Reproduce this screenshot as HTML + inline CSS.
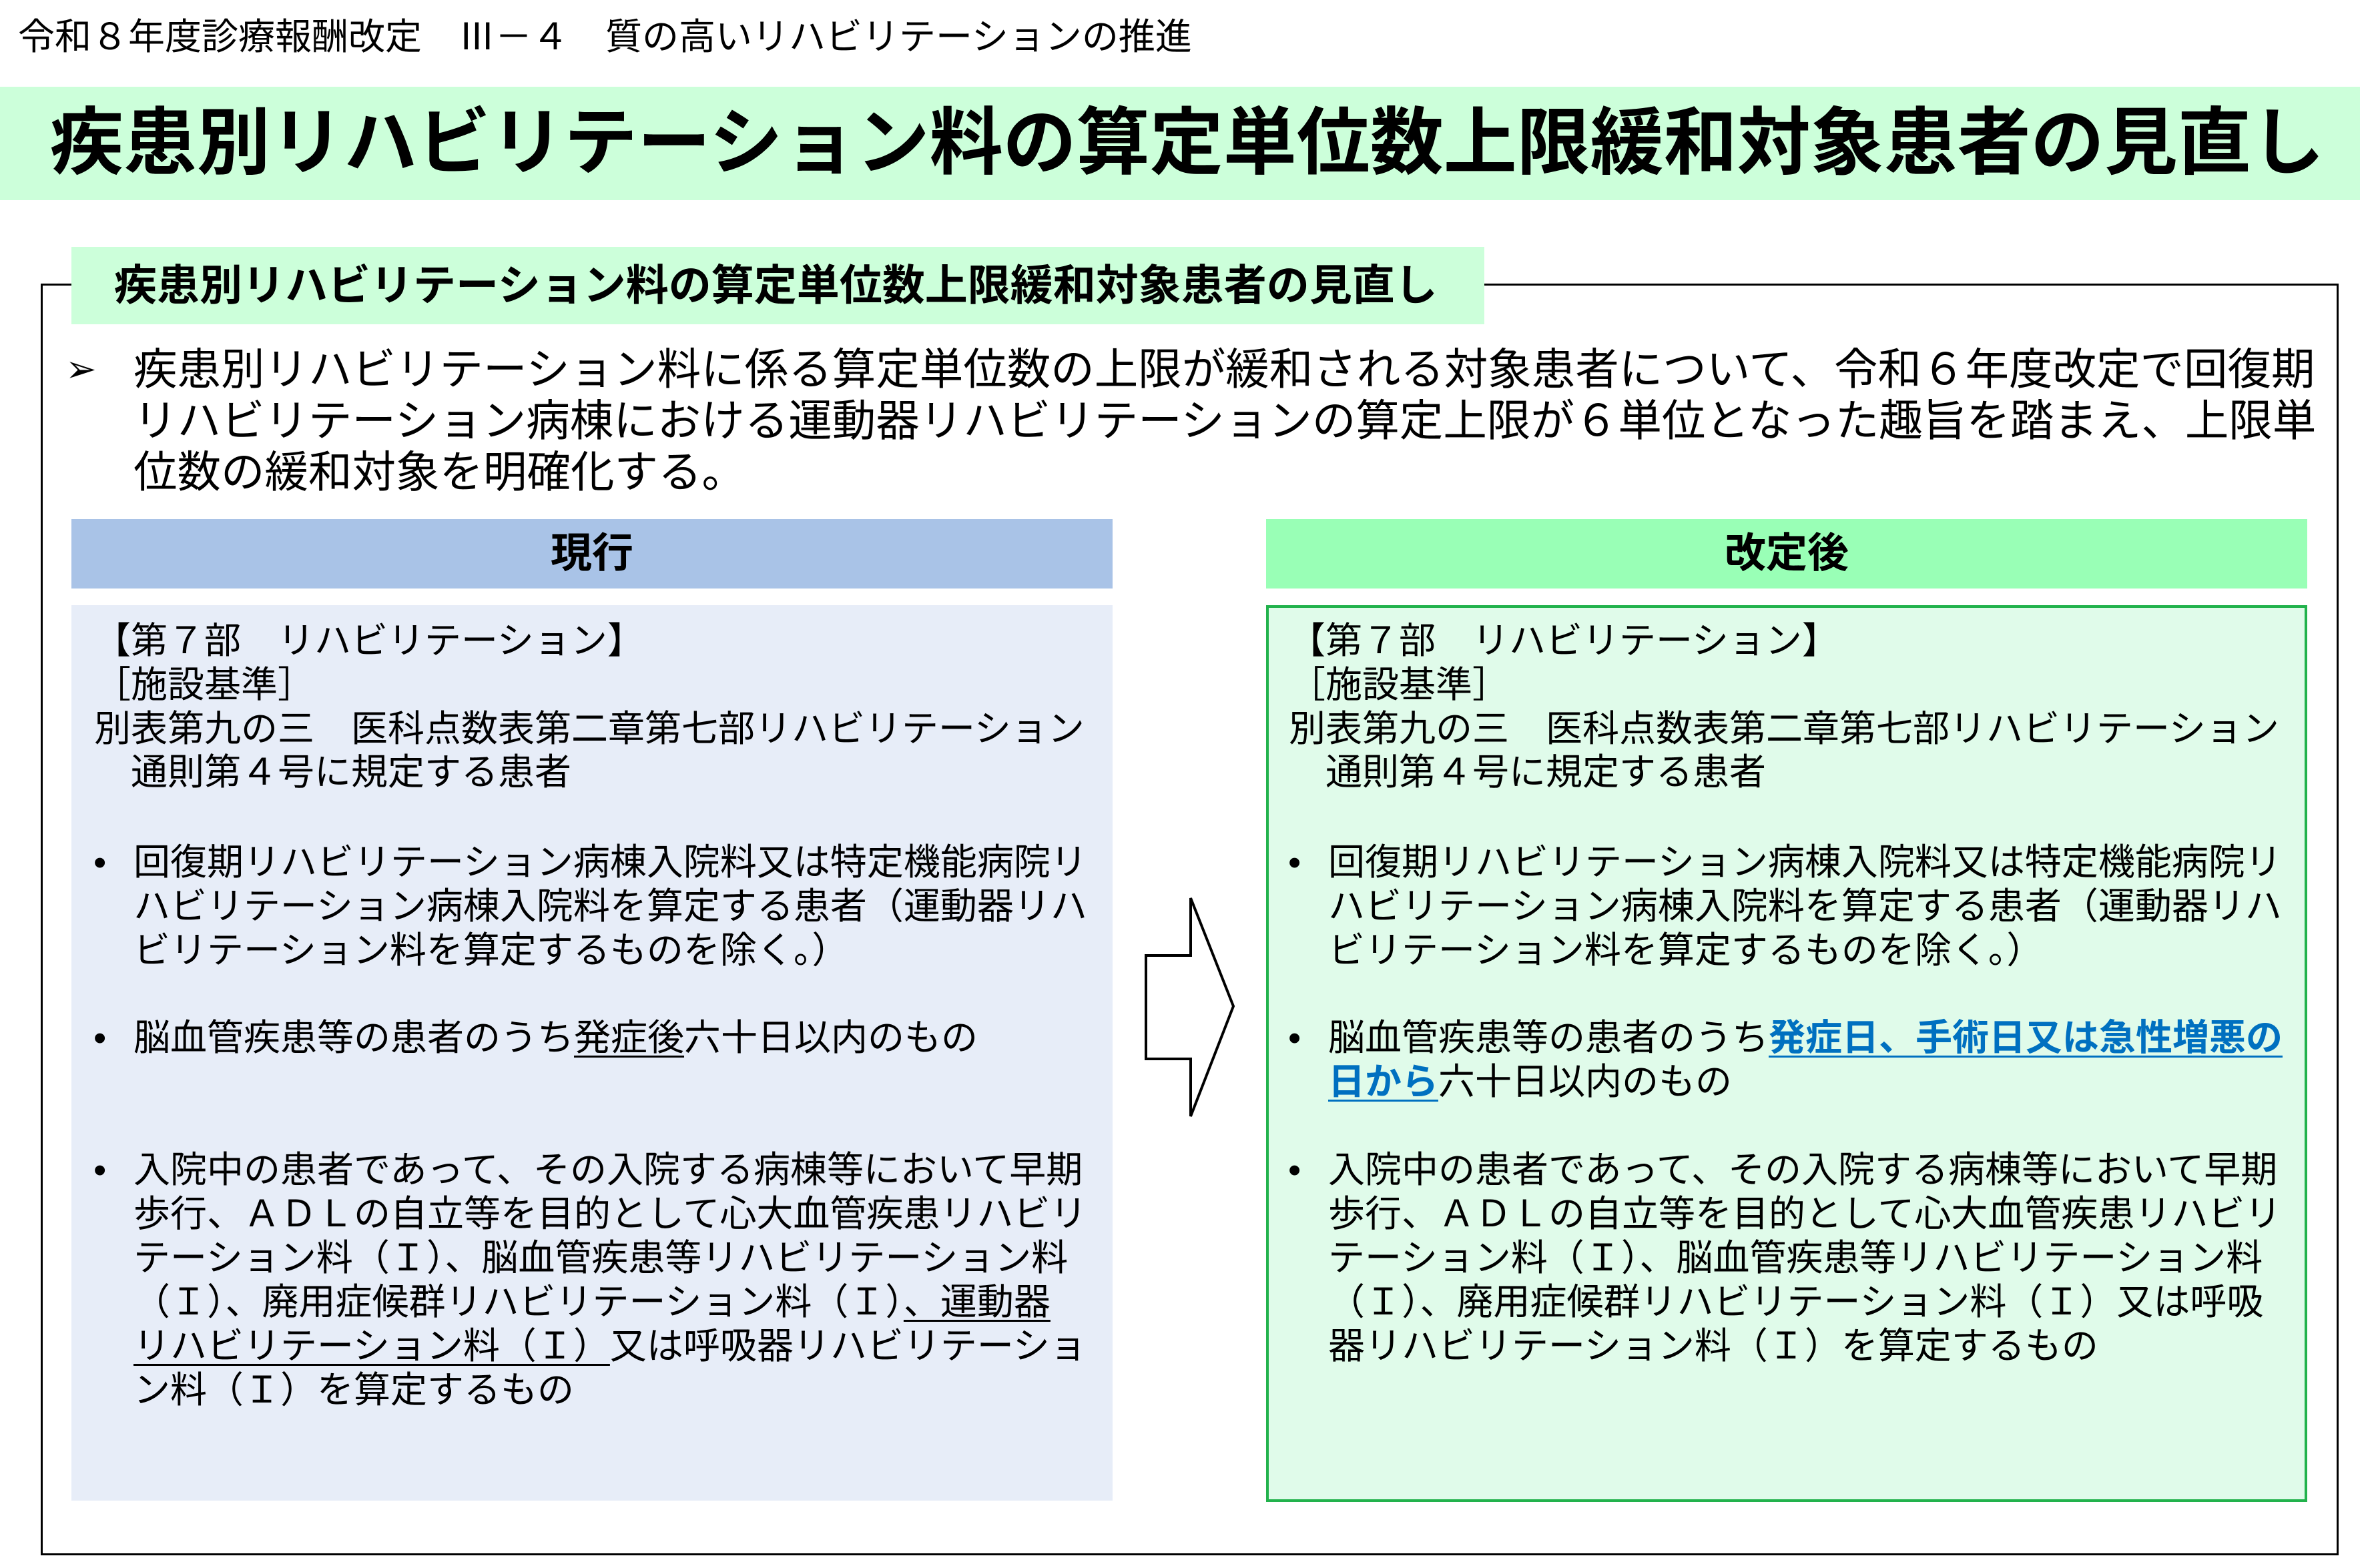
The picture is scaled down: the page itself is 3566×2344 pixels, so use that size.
<!DOCTYPE html>
<html><head><meta charset="utf-8"><style>
body{margin:0;width:3566px;height:2344px;background:#fff;position:relative;overflow:hidden;font-family:"Liberation Sans","Noto Sans CJK JP",sans-serif;color:#000}
.a{position:absolute;white-space:nowrap}
.t{position:absolute;white-space:nowrap;font-size:55px;line-height:66px;height:66px}
u{text-decoration-thickness:3px;text-underline-offset:8px}
.blue{color:#0070c0;font-weight:bold}
</style></head><body>
<div class="a" style="left:27px;top:22px;font-size:55px;line-height:66px">令和８年度診療報酬改定　Ⅲ－４　質の高いリハビリテーションの推進</div>
<div class="a" style="left:0;top:130px;width:3536px;height:170px;background:#ccffda"></div>
<div class="a" style="left:75px;top:130px;height:170px;line-height:170px;font-size:110px;font-weight:bold">疾患別リハビリテーション料の算定単位数上限緩和対象患者の見直し</div>

<div class="a" style="left:61px;top:425px;width:3437px;height:1900px;border:3px solid #000"></div>
<div class="a" style="left:107px;top:370px;width:2117px;height:116px;background:#ccffda"></div>
<div class="a" style="left:171px;top:370px;height:116px;line-height:116px;font-size:64px;font-weight:bold">疾患別リハビリテーション料の算定単位数上限緩和対象患者の見直し</div>

<div class="a" style="left:98px;top:515px;font-size:56px;line-height:76px">➢</div>
<div class="a" style="left:200px;top:515px;font-size:65.5px;line-height:77px">疾患別リハビリテーション料に係る算定単位数の上限が緩和される対象患者について、令和６年度改定で回復期<br>リハビリテーション病棟における運動器リハビリテーションの算定上限が６単位となった趣旨を踏まえ、上限単<br>位数の緩和対象を明確化する。</div>

<div class="a" style="left:107px;top:778px;width:1560px;height:104px;background:#a9c3e7;text-align:center;line-height:104px;font-size:62px;font-weight:bold">現行</div>
<div class="a" style="left:1897px;top:778px;width:1560px;height:104px;background:#99ffb6;text-align:center;line-height:104px;font-size:62px;font-weight:bold">改定後</div>

<div class="a" style="left:107px;top:907px;width:1560px;height:1342px;background:#e7edf8"></div>
<div class="a" style="left:1897px;top:907px;width:1560px;height:1344px;background:#e0fbea;border:4px solid #22b24c;box-sizing:border-box"></div>

<svg class="a" style="left:0;top:0" width="3566" height="2344"><polygon points="1717,1432 1784,1432 1784,1346 1848,1508 1784,1673 1784,1587 1717,1587" fill="#fff" stroke="#000" stroke-width="4"/></svg>

<!-- left -->
<div class="t" style="left:141px;top:927px">【第７部　リハビリテーション】</div>
<div class="t" style="left:141px;top:993px">［施設基準］</div>
<div class="t" style="left:141px;top:1059px">別表第九の三　医科点数表第二章第七部リハビリテーション</div>
<div class="t" style="left:141px;top:1124px">　通則第４号に規定する患者</div>
<div class="t" style="left:140px;top:1259px">•</div>
<div class="t" style="left:200px;top:1259px">回復期リハビリテーション病棟入院料又は特定機能病院リ<br>ハビリテーション病棟入院料を算定する患者（運動器リハ<br>ビリテーション料を算定するものを除く。）</div>
<div class="t" style="left:140px;top:1522px">•</div>
<div class="t" style="left:200px;top:1522px">脳血管疾患等の患者のうち<u>発症後</u>六十日以内のもの</div>
<div class="t" style="left:140px;top:1720px">•</div>
<div class="t" style="left:200px;top:1720px">入院中の患者であって、その入院する病棟等において早期<br>歩行、ＡＤＬの自立等を目的として心大血管疾患リハビリ<br>テーション料（Ｉ）、脳血管疾患等リハビリテーション料<br>（Ｉ）、廃用症候群リハビリテーション料（Ｉ）<u>、運動器</u><br><u>リハビリテーション料（Ｉ）</u>又は呼吸器リハビリテーショ<br>ン料（Ｉ）を算定するもの</div>

<!-- right -->
<div class="t" style="left:1931px;top:927px">【第７部　リハビリテーション】</div>
<div class="t" style="left:1931px;top:993px">［施設基準］</div>
<div class="t" style="left:1931px;top:1059px">別表第九の三　医科点数表第二章第七部リハビリテーション</div>
<div class="t" style="left:1931px;top:1124px">　通則第４号に規定する患者</div>
<div class="t" style="left:1930px;top:1259px">•</div>
<div class="t" style="left:1990px;top:1259px">回復期リハビリテーション病棟入院料又は特定機能病院リ<br>ハビリテーション病棟入院料を算定する患者（運動器リハ<br>ビリテーション料を算定するものを除く。）</div>
<div class="t" style="left:1930px;top:1522px">•</div>
<div class="t" style="left:1990px;top:1522px">脳血管疾患等の患者のうち<u class="blue">発症日、手術日又は急性増悪の</u><br><u class="blue">日から</u>六十日以内のもの</div>
<div class="t" style="left:1930px;top:1720px">•</div>
<div class="t" style="left:1990px;top:1720px">入院中の患者であって、その入院する病棟等において早期<br>歩行、ＡＤＬの自立等を目的として心大血管疾患リハビリ<br>テーション料（Ｉ）、脳血管疾患等リハビリテーション料<br>（Ｉ）、廃用症候群リハビリテーション料（Ｉ）又は呼吸<br>器リハビリテーション料（Ｉ）を算定するもの</div>
</body></html>
